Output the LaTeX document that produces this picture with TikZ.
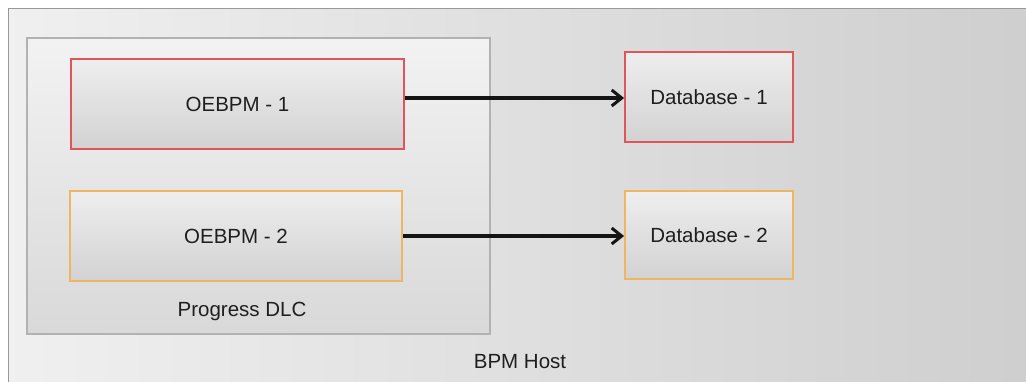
\documentclass[tikz,border=0pt]{standalone}
\usepackage{fontspec}
\setmainfont{Liberation Sans}
\usetikzlibrary{arrows.meta}
\definecolor{boxtop}{HTML}{EEEEEE}
\definecolor{boxbot}{HTML}{D2D2D2}
\definecolor{redline}{HTML}{E0555A}
\definecolor{orangeline}{HTML}{F0B560}
\tikzset{
  comp/.style={draw, line width=1.8pt, top color=boxtop, bottom color=boxbot, font=\fontsize{20.5}{24}\selectfont, text=black!88},
  redbox/.style={comp, draw=redline},
  orangebox/.style={comp, draw=orangeline},
  conn/.style={-{Straight Barb[length=10pt,width=16pt,line width=3pt]}, line width=3.2pt, black!92},
  lbl/.style={font=\fontsize{20.5}{24}\selectfont, text=black!88}
}
\begin{document}
\begin{tikzpicture}[x=1pt,y=-1pt]
\useasboundingbox (0,0) rectangle (1026,382);
\fill[white] (0,0) rectangle (1026,382);
% BPM Host
\path[left color=black!6, right color=black!19] (8,9) rectangle (1030,386);
\draw[black!40, line width=1pt] (8,386) -- (8,9) -- (1030,9);
\node[lbl] (host) at (520,362) {BPM Host};
% Progress DLC
\path[draw=black!30, line width=1.6pt, top color=black!5, bottom color=black!15] (27,38) rectangle (490,334);
\node[lbl] (dlc) at (242,311) {Progress DLC};
% Components
\node[redbox, minimum width=333pt, minimum height=90pt] (o1) at (237.5,104) {OEBPM - 1};
\node[orangebox, minimum width=332pt, minimum height=90pt] (o2) at (236,236) {OEBPM - 2};
\node[redbox, minimum width=168pt, minimum height=90pt] (d1) at (709,97) {Database - 1};
\node[orangebox, minimum width=168pt, minimum height=88pt] (d2) at (709,235) {Database - 2};
\draw[conn] (o1.east |- 0,98) -- (d1.west |- 0,98);
\draw[conn] (o2.east) -- (d2.west |- 0,236);
\end{tikzpicture}
\end{document}
